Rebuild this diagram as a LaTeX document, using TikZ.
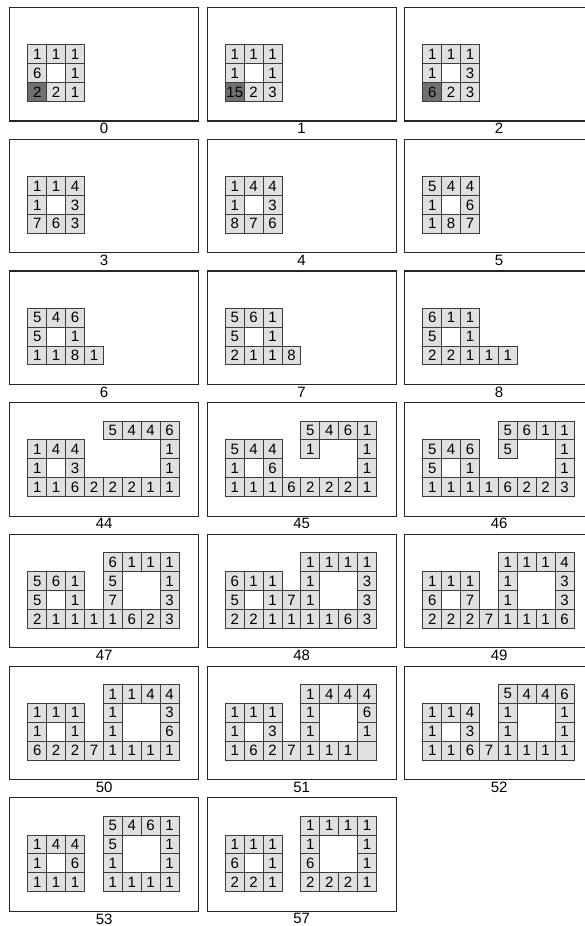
\documentclass[tikz,border=0pt]{standalone}
\usepackage{fontspec}
\setmainfont{Liberation Sans}
\usepackage{tikz}
\usetikzlibrary{positioning}
\definecolor{cellgray}{HTML}{E0E0E0}
\definecolor{darkgray}{HTML}{707070}
\definecolor{edgegray}{HTML}{3C3C3C}
\tikzstyle{panelbox} =[draw=black!85, line width=1.2pt, minimum width=189pt, minimum height=113.4pt, inner sep=0pt]
\tikzstyle{cell}     =[draw=edgegray, line width=0.9pt, fill=cellgray, minimum size=18.9pt, inner sep=0pt]
\tikzstyle{darkcell} =[cell, fill=darkgray]

% one frame: label, column, row, cells i/j/value, dark cells i/j/value
\newcommand{\panel}[5]{%
  \node[panelbox, anchor=north west] (p#1) at ({9+197.5*#2},{7+131.7*#3}) {};
  \node[below=1.6pt of p#1, inner sep=0pt] (l#1) {#1};
  \foreach \i/\j/\v in {#4}
    \node[cell] (p#1-\i-\j) at ({18.35+197.5*#2+18.9*\i},{16.45+131.7*#3+18.9*\j}) {\v};
  \foreach \i/\j/\v in {#5}
    \node[darkcell] (p#1-\i-\j) at ({18.35+197.5*#2+18.9*\i},{16.45+131.7*#3+18.9*\j}) {\v};
}

\begin{document}
\begin{tikzpicture}[x=1pt, y=-1pt, every node/.style={font=\fontsize{15}{18}\selectfont}]

  \useasboundingbox (0,0) rectangle (585,926);

  % ── small frames ──────────────────────────────────────────────────────────
  \panel{0}{0}{0}{1/2/1,2/2/1,3/2/1,1/3/6,3/3/1,2/4/2,3/4/1}{1/4/2}
  \panel{1}{1}{0}{1/2/1,2/2/1,3/2/1,1/3/1,3/3/1,2/4/2,3/4/3}{1/4/15}
  \panel{2}{2}{0}{1/2/1,2/2/1,3/2/1,1/3/1,3/3/3,2/4/2,3/4/3}{1/4/6}

  \panel{3}{0}{1}{1/2/1,2/2/1,3/2/4,1/3/1,3/3/3,1/4/7,2/4/6,3/4/3}{}
  \panel{4}{1}{1}{1/2/1,2/2/4,3/2/4,1/3/1,3/3/3,1/4/8,2/4/7,3/4/6}{}
  \panel{5}{2}{1}{1/2/5,2/2/4,3/2/4,1/3/1,3/3/6,1/4/1,2/4/8,3/4/7}{}

  \panel{6}{0}{2}{1/2/5,2/2/4,3/2/6,1/3/5,3/3/1,1/4/1,2/4/1,3/4/8,4/4/1}{}
  \panel{7}{1}{2}{1/2/5,2/2/6,3/2/1,1/3/5,3/3/1,1/4/2,2/4/1,3/4/1,4/4/8}{}
  \panel{8}{2}{2}{1/2/6,2/2/1,3/2/1,1/3/5,3/3/1,1/4/2,2/4/2,3/4/1,4/4/1,5/4/1}{}

  % ── large frames ──────────────────────────────────────────────────────────
  \panel{44}{0}{3}{5/1/5,6/1/4,7/1/4,8/1/6,1/2/1,2/2/4,3/2/4,8/2/1,1/3/1,3/3/3,8/3/1,
    1/4/1,2/4/1,3/4/6,4/4/2,5/4/2,6/4/2,7/4/1,8/4/1}{}
  \panel{45}{1}{3}{5/1/5,6/1/4,7/1/6,8/1/1,1/2/5,2/2/4,3/2/4,5/2/1,8/2/1,1/3/1,3/3/6,8/3/1,
    1/4/1,2/4/1,3/4/1,4/4/6,5/4/2,6/4/2,7/4/2,8/4/1}{}
  \panel{46}{2}{3}{5/1/5,6/1/6,7/1/1,8/1/1,1/2/5,2/2/4,3/2/6,5/2/5,8/2/1,1/3/5,3/3/1,8/3/1,
    1/4/1,2/4/1,3/4/1,4/4/1,5/4/6,6/4/2,7/4/2,8/4/3}{}

  \panel{47}{0}{4}{5/1/6,6/1/1,7/1/1,8/1/1,1/2/5,2/2/6,3/2/1,5/2/5,8/2/1,1/3/5,3/3/1,5/3/7,8/3/3,
    1/4/2,2/4/1,3/4/1,4/4/1,5/4/1,6/4/6,7/4/2,8/4/3}{}
  \panel{48}{1}{4}{5/1/1,6/1/1,7/1/1,8/1/1,1/2/6,2/2/1,3/2/1,5/2/1,8/2/3,1/3/5,3/3/1,4/3/7,5/3/1,8/3/3,
    1/4/2,2/4/2,3/4/1,4/4/1,5/4/1,6/4/1,7/4/6,8/4/3}{}
  \panel{49}{2}{4}{5/1/1,6/1/1,7/1/1,8/1/4,1/2/1,2/2/1,3/2/1,5/2/1,8/2/3,1/3/6,3/3/7,5/3/1,8/3/3,
    1/4/2,2/4/2,3/4/2,4/4/7,5/4/1,6/4/1,7/4/1,8/4/6}{}

  \panel{50}{0}{5}{5/1/1,6/1/1,7/1/4,8/1/4,1/2/1,2/2/1,3/2/1,5/2/1,8/2/3,1/3/1,3/3/1,5/3/1,8/3/6,
    1/4/6,2/4/2,3/4/2,4/4/7,5/4/1,6/4/1,7/4/1,8/4/1}{}
  \panel{51}{1}{5}{5/1/1,6/1/4,7/1/4,8/1/4,1/2/1,2/2/1,3/2/1,5/2/1,8/2/6,1/3/1,3/3/3,5/3/1,8/3/1,
    1/4/1,2/4/6,3/4/2,4/4/7,5/4/1,6/4/1,7/4/1,8/4/{}}{}
  \panel{52}{2}{5}{5/1/5,6/1/4,7/1/4,8/1/6,1/2/1,2/2/1,3/2/4,5/2/1,8/2/1,1/3/1,3/3/3,5/3/1,8/3/1,
    1/4/1,2/4/1,3/4/6,4/4/7,5/4/1,6/4/1,7/4/1,8/4/1}{}

  \panel{53}{0}{6}{1/2/1,2/2/4,3/2/4,1/3/1,3/3/6,1/4/1,2/4/1,3/4/1,
    5/1/5,6/1/4,7/1/6,8/1/1,5/2/5,8/2/1,5/3/1,8/3/1,5/4/1,6/4/1,7/4/1,8/4/1}{}
  \panel{57}{1}{6}{1/2/1,2/2/1,3/2/1,1/3/6,3/3/1,1/4/2,2/4/2,3/4/1,
    5/1/1,6/1/1,7/1/1,8/1/1,5/2/1,8/2/1,5/3/6,8/3/1,5/4/2,6/4/2,7/4/2,8/4/1}{}

\end{tikzpicture}
\end{document}
